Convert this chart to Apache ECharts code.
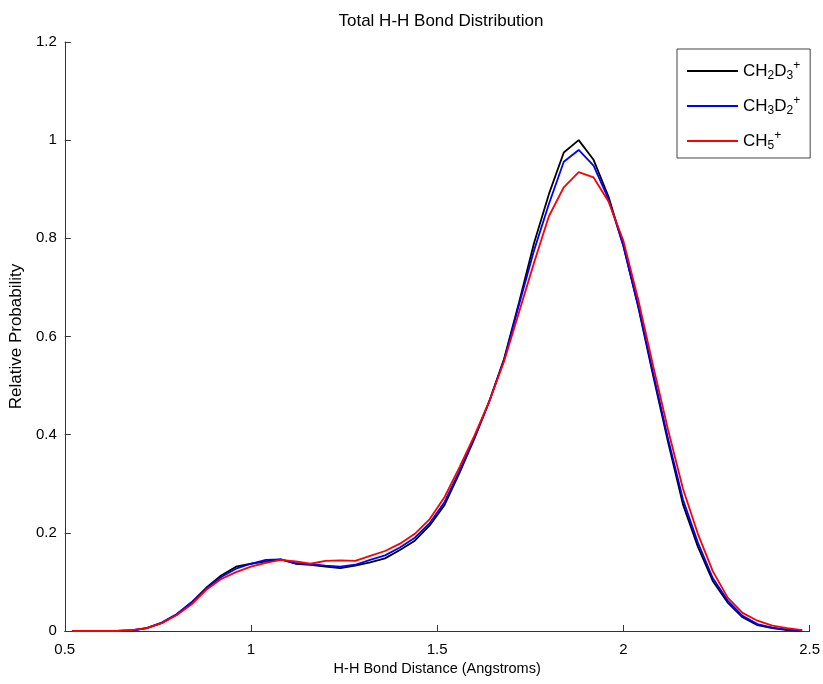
<!DOCTYPE html>
<html>
<head>
<meta charset="utf-8">
<script src="https://cdn.jsdelivr.net/npm/echarts@6/dist/echarts.min.js"></script>
<style>
html,body{margin:0;padding:0;background:#fff;}
#chart{width:823px;height:684px;}
</style>
</head>
<body>
<div id="chart"></div>
<script>
var distance = [0.52,0.56,0.60,0.64,0.68,0.72,0.76,0.80,0.84,0.88,0.92,0.96,1.00,1.04,1.08,1.12,1.16,1.20,1.24,1.28,1.32,1.36,1.40,1.44,1.48,1.52,1.56,1.60,1.64,1.68,1.72,1.76,1.80,1.84,1.88,1.92,1.96,2.00,2.04,2.08,2.12,2.16,2.20,2.24,2.28,2.32,2.36,2.40,2.44,2.48];

var ch2d3 = [0,0,0,0,0.001,0.006,0.016,0.033,0.058,0.088,0.113,0.131,0.137,0.142,0.146,0.137,0.135,0.131,0.128,0.133,0.140,0.148,0.165,0.184,0.215,0.257,0.322,0.392,0.468,0.555,0.670,0.790,0.890,0.975,1.000,0.960,0.885,0.785,0.660,0.520,0.385,0.258,0.172,0.102,0.058,0.028,0.012,0.006,0.002,0.001];

var ch3d2 = [0,0,0,0,0.001,0.006,0.017,0.034,0.058,0.087,0.110,0.127,0.137,0.145,0.146,0.138,0.136,0.133,0.131,0.135,0.145,0.154,0.170,0.190,0.220,0.263,0.326,0.394,0.468,0.553,0.665,0.775,0.870,0.956,0.980,0.948,0.880,0.785,0.662,0.525,0.392,0.268,0.180,0.108,0.062,0.031,0.014,0.007,0.003,0.001];

var ch5 = [0,0,0,0,0.002,0.006,0.016,0.032,0.054,0.084,0.106,0.120,0.131,0.139,0.145,0.142,0.137,0.143,0.144,0.143,0.153,0.163,0.178,0.198,0.228,0.273,0.334,0.398,0.468,0.550,0.650,0.750,0.845,0.904,0.935,0.924,0.875,0.795,0.675,0.540,0.410,0.290,0.198,0.122,0.068,0.037,0.021,0.011,0.006,0.002];

var seriesNames = ['CH2D3+', 'CH3D2+', 'CH5+'];
var legendLabels = {
  'CH2D3+': '{m|CH}{s|2}{m|D}{s|3}{p|+}',
  'CH3D2+': '{m|CH}{s|3}{m|D}{s|2}{p|+}',
  'CH5+': '{m|CH}{s|5}{p|+}'
};
var xTicks = {min: 0.5, max: 2.5, interval: 0.5};
var yTicks = {min: 0, max: 1.2, interval: 0.2};

function pairs(ys){ return distance.map(function(x,i){ return [x, ys[i]]; }); }

var chart = echarts.init(document.getElementById('chart'), null, {renderer:'canvas'});
var font = '"Liberation Sans", Arial, sans-serif';
var axisCol = '#333';
chart.setOption({
  animation: false,
  backgroundColor: '#fff',
  title: {
    text: 'Total H-H Bond Distribution',
    left: 436, top: 8, textAlign: 'center',
    textStyle: {fontFamily: font, fontSize: 17, fontWeight: 'normal', color: '#000'}
  },
  grid: {left: 64, right: 13, top: 42, bottom: 53, containLabel: false},
  legend: {
    orient: 'vertical',
    left: 677, top: 49,
    width: 132,
    padding: [11, 10, 6, 10],
    itemWidth: 51, itemHeight: 2,
    itemGap: 13,
    icon: 'rect',
    borderColor: '#444', borderWidth: 1,
    backgroundColor: '#fff',
    data: seriesNames,
    formatter: function(name){ return legendLabels[name]; },
    textStyle: {
      fontFamily: font, color: '#000',
      rich: {
        m: {fontFamily: font, fontSize: 17, color: '#000', lineHeight: 21},
        s: {fontFamily: font, fontSize: 12, color: '#000', padding: [9, 0, 0, 0], lineHeight: 21},
        p: {fontFamily: font, fontSize: 12, color: '#000', padding: [0, 0, 10, 0], lineHeight: 21}
      }
    }
  },
  xAxis: {
    type: 'value',
    min: xTicks.min, max: xTicks.max, interval: xTicks.interval,
    name: 'H-H Bond Distance (Angstroms)',
    nameLocation: 'middle', nameGap: 29,
    nameTextStyle: {fontFamily: font, fontSize: 14.5, color: '#000'},
    axisLine: {show: true, lineStyle: {color: axisCol, width: 1}},
    axisTick: {show: true, inside: true, length: 6, lineStyle: {color: axisCol}},
    axisLabel: {fontFamily: font, fontSize: 15, color: '#000', margin: 11},
    splitLine: {show: false}
  },
  yAxis: {
    type: 'value',
    min: yTicks.min, max: yTicks.max, interval: yTicks.interval,
    name: 'Relative Probability',
    nameLocation: 'middle', nameGap: 38,
    nameTextStyle: {fontFamily: font, fontSize: 17, color: '#000'},
    axisLine: {show: true, lineStyle: {color: axisCol, width: 1}},
    axisTick: {show: true, inside: true, length: 6, lineStyle: {color: axisCol}},
    axisLabel: {fontFamily: font, fontSize: 15, color: '#000', margin: 8},
    splitLine: {show: false}
  },
  series: [
    {name: seriesNames[0], type: 'line', data: pairs(ch2d3), symbol: 'none', lineStyle: {color: '#000000', width: 1.8}, itemStyle: {color: '#000000'}},
    {name: seriesNames[1], type: 'line', data: pairs(ch3d2), symbol: 'none', lineStyle: {color: '#0000ff', width: 1.8}, itemStyle: {color: '#0000ff'}},
    {name: seriesNames[2], type: 'line', data: pairs(ch5), symbol: 'none', lineStyle: {color: '#ff0000', width: 1.8}, itemStyle: {color: '#ff0000'}}
  ]
});
</script>
</body>
</html>
